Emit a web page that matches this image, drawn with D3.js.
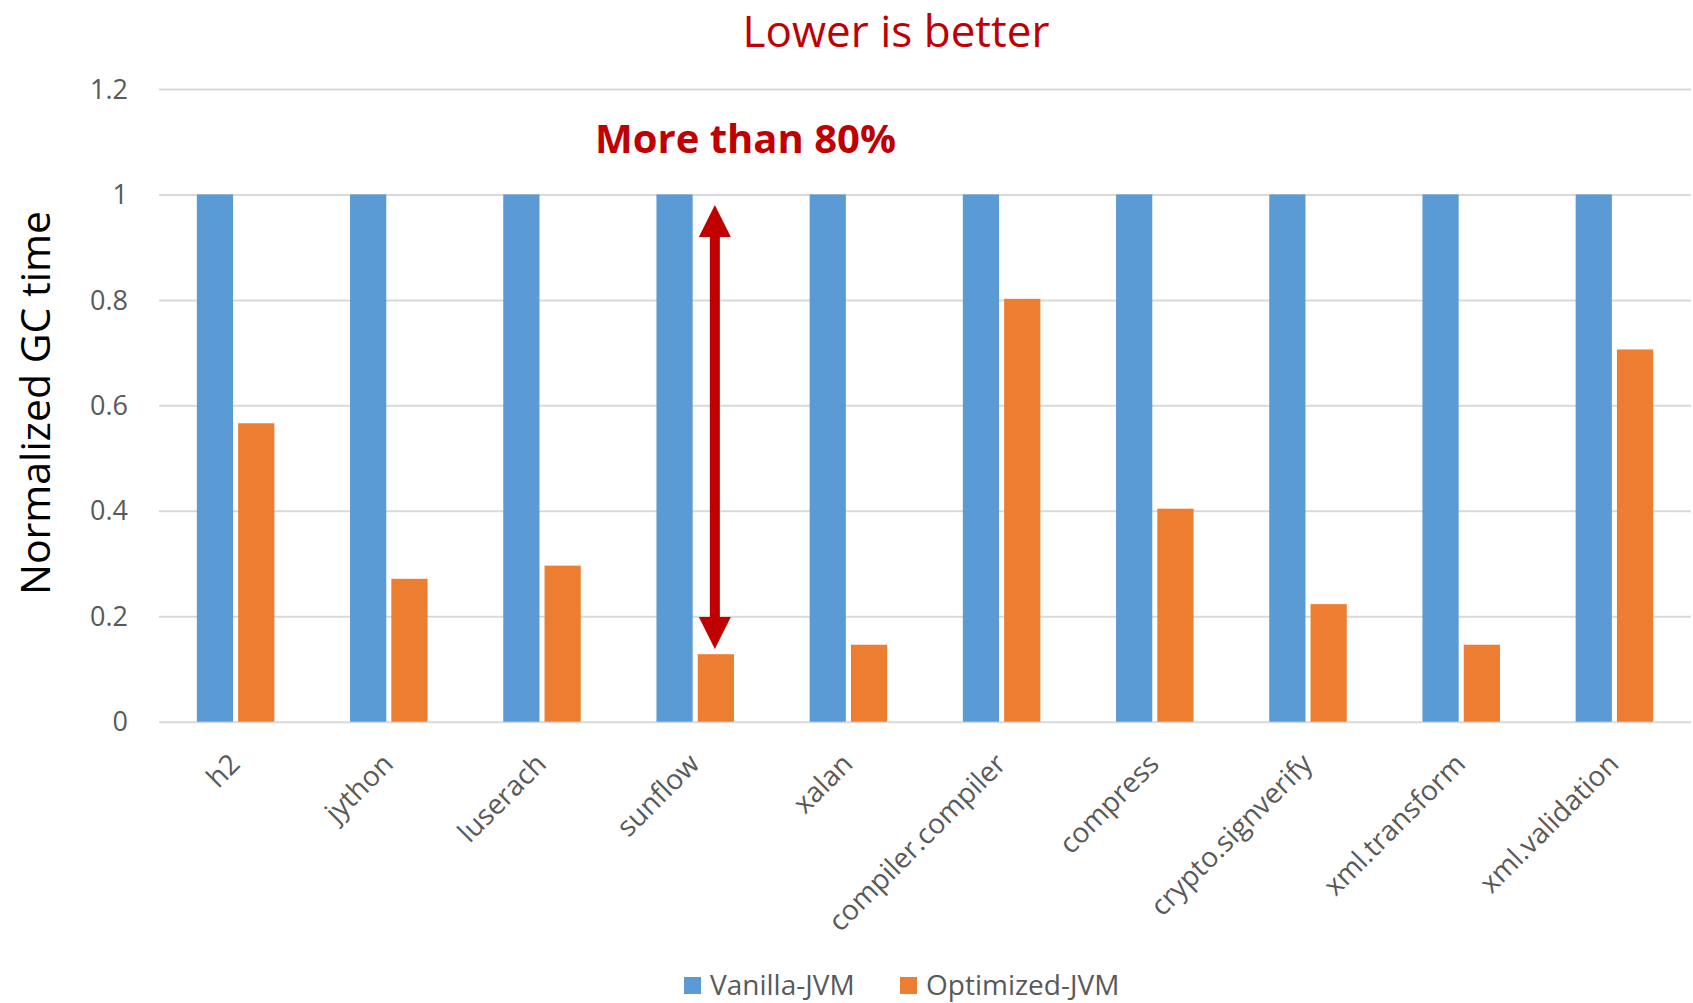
<!DOCTYPE html>
<html>
<head>
<meta charset="utf-8">
<script src="https://cdn.jsdelivr.net/npm/d3@7"></script>
<style>
  html, body { margin: 0; padding: 0; background: #fff; }
  svg { display: block; }
</style>
</head>
<body>
<svg id="chart" width="1693" height="1003"></svg>
<script>
const categories = ["h2", "jython", "luserach", "sunflow", "xalan", "compiler.compiler", "compress", "crypto.signverify", "xml.transform", "xml.validation"];
const seriesNames = ["Vanilla-JVM", "Optimized-JVM"];
const vanillaValues = [1, 1, 1, 1, 1, 1, 1, 1, 1, 1];
const optimizedValues = [0.566, 0.271, 0.296, 0.128, 0.146, 0.802, 0.404, 0.223, 0.146, 0.706];
const yTicks = [0, 0.2, 0.4, 0.6, 0.8, 1, 1.2];
const seriesColors = ["#5B9BD5", "#ED7D31"];
const titleText = "Lower is better";
const yLabelText = "Normalized GC time";
const annotationText = "More than 80%";
const arrowCategory = "sunflow";
const arrowTop = 0.98;
const arrowBottom = 0.138;

const svg = d3.select("#chart");
const FONT = "'Open Sans', 'DejaVu Sans', sans-serif";
const GRAY = "#595959";
const RED = "#C00000";

const x0 = d3.scaleBand().domain(categories).range([159, 1691]).paddingInner(0.494).paddingOuter(0.247);
const x1 = d3.scaleBand().domain(seriesNames).range([0, x0.bandwidth()]).paddingInner(0.1226);
const y = d3.scaleLinear().domain([0, 1.2]).range([721.7, 89]);

// gridlines
const yAxis = d3.axisLeft(y).tickValues(yTicks).tickFormat(d3.format("~g")).tickSize(-(1691 - 159)).tickPadding(31);
const gy = svg.append("g").attr("transform", "translate(159,0)").call(yAxis);
gy.select(".domain").remove();
gy.selectAll(".tick line").attr("stroke", "#D9D9D9").attr("stroke-width", 2);
gy.selectAll(".tick text").attr("fill", GRAY).style("font-family", FONT).style("font-size", "27px").attr("dy", "0.34em");

// bars
const rows = categories.map((c, i) => ({ cat: c, vals: [vanillaValues[i], optimizedValues[i]] }));
const groups = svg.append("g").selectAll("g").data(rows).join("g")
  .attr("transform", d => `translate(${x0(d.cat)},0)`);
groups.selectAll("rect").data(d => d.vals.map((v, j) => ({ s: seriesNames[j], v, j })))
  .join("rect")
  .attr("x", d => x1(d.s))
  .attr("width", x1.bandwidth())
  .attr("y", d => y(d.v))
  .attr("height", d => y(0) - y(d.v))
  .attr("fill", d => seriesColors[d.j]);

// x labels
const xAxis = d3.axisBottom(x0).tickSize(0).tickPadding(0);
const gx = svg.append("g").attr("transform", `translate(0,${y(0)})`).call(xAxis);
gx.select(".domain").remove();
gx.selectAll(".tick text")
  .attr("fill", GRAY)
  .style("font-family", FONT)
  .style("font-size", "28px")
  .attr("text-anchor", "end")
  .attr("dy", null)
  .attr("y", null)
  .attr("transform", "translate(6,44) rotate(-45)");

// title
svg.append("text").attr("x", 896).attr("y", 47).attr("text-anchor", "middle")
  .attr("fill", RED).style("font-family", FONT).style("font-size", "44px").text(titleText);

// y label
svg.append("text").attr("transform", "translate(50,403) rotate(-90)").attr("text-anchor", "middle")
  .attr("fill", "#000").style("font-family", FONT).style("font-size", "41px").text(yLabelText);

// annotation
svg.append("text").attr("x", 595).attr("y", 153).attr("text-anchor", "start")
  .attr("fill", RED).style("font-family", FONT).style("font-size", "40px").style("font-weight", "bold").text(annotationText);

// double arrow
const ax = x0(arrowCategory) + x1("Optimized-JVM") + x1.bandwidth() / 2 - 1;
const yt = y(arrowTop), yb = y(arrowBottom);
const hw = 16, hh = 32, sw = 5;
const arrowPath = d3.path();
arrowPath.moveTo(ax, yt);
arrowPath.lineTo(ax + hw, yt + hh);
arrowPath.lineTo(ax + sw, yt + hh);
arrowPath.lineTo(ax + sw, yb - hh);
arrowPath.lineTo(ax + hw, yb - hh);
arrowPath.lineTo(ax, yb);
arrowPath.lineTo(ax - hw, yb - hh);
arrowPath.lineTo(ax - sw, yb - hh);
arrowPath.lineTo(ax - sw, yt + hh);
arrowPath.lineTo(ax - hw, yt + hh);
arrowPath.closePath();
svg.append("path").attr("d", arrowPath.toString()).attr("fill", RED);

// legend
const legend = svg.append("g");
const legendX = [684, 900];
seriesNames.forEach((s, i) => {
  legend.append("rect").attr("x", legendX[i]).attr("y", 977).attr("width", 17).attr("height", 17).attr("fill", seriesColors[i]);
  legend.append("text").attr("x", legendX[i] + 26).attr("y", 995).attr("fill", GRAY)
    .style("font-family", FONT).style("font-size", "28px").text(s);
});
</script>
</body>
</html>
